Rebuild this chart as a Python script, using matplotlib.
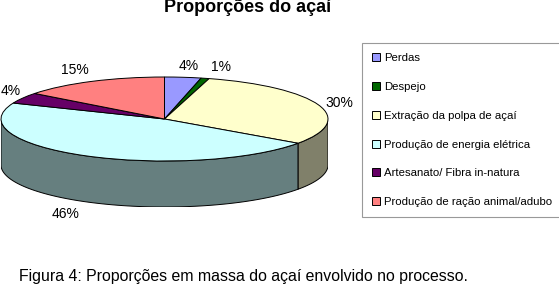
import numpy as np
import matplotlib
matplotlib.use('Agg')
import matplotlib.pyplot as plt
from matplotlib.patches import Patch, Polygon

plt.rcParams['font.family'] = ['Liberation Sans', 'DejaVu Sans']

title = 'Proporções do açaí'
caption = 'Figura 4: Proporções em massa do açaí envolvido no processo.'
categories = ['Perdas', 'Despejo', 'Extração da polpa de açaí',
              'Produção de energia elétrica', 'Artesanato/ Fibra in-natura',
              'Produção de ração animal/adubo']
values = [3.6, 0.8, 30.4, 46.4, 4.2, 14.6]

colors = ['#9999FF', '#006600', '#FFFFCC', '#CCFFFF', '#660066', '#FF8080']
side_colors = ['#666680', '#003300', '#80806A', '#667F7F', '#330033', '#804040']

W, H = 559, 287
fig = plt.figure(figsize=(W / 100, H / 100), dpi=100, facecolor='white')

# pie box in pixels, the wedges get squashed into an ellipse
left, right, top, bottom = 1, 328, 77, 207
ry = 42.0
depth = 46.0 / ry
ax = fig.add_axes([left / W, 1 - bottom / H, (right - left) / W, (bottom - top) / H])

wedges, _ = ax.pie(values, colors=colors, startangle=90, counterclock=False,
                   wedgeprops={'edgecolor': 'black', 'linewidth': 0.7, 'zorder': 3})
ax.set_aspect('auto')
ax.set_xlim(-1, 1)
ax.set_ylim(-1 - depth, 1)
ax.axis('off')

# side wall, only the part of each slice on the front half
edges = np.cumsum([0] + values) / sum(values) * 360
for i in range(len(values)):
    a = max(edges[i], 90)
    b = min(edges[i + 1], 270)
    if b <= a:
        continue
    t = np.radians(np.linspace(a, b, 80))
    x, y = np.sin(t), np.cos(t)
    pts = np.vstack([np.column_stack([x, y]),
                     np.column_stack([x[::-1], y[::-1] - depth])])
    ax.add_patch(Polygon(pts, closed=True, facecolor=side_colors[i],
                         edgecolor='black', linewidth=0.7, zorder=2))

# percent labels, pixel positions
label_xy = [(189, 66), (221, 67), (339, 103), (66, 214), (11, 91), (75, 70)]
for v, (px, py) in zip(values, label_xy):
    fig.text(px / W, 1 - py / H, '%.0f%%' % v, fontsize=10, ha='center', va='center')

fig.text(248 / W, 1 - 8 / H, title, fontsize=13, fontweight='bold', ha='center', va='center')
fig.text(19 / W, 1 - 277 / H, caption, fontsize=11.4, ha='left', va='center')

handles = [Patch(facecolor=c, edgecolor='black', linewidth=0.7) for c in colors]
leg = fig.legend(handles, categories, loc='upper left',
                 bbox_to_anchor=(362 / W, 1 - 43 / H), borderaxespad=0,
                 fontsize=8.2, frameon=True, fancybox=False, edgecolor='#999999',
                 framealpha=1, handlelength=0.7, handleheight=0.7, handletextpad=0.35,
                 labelspacing=1.65, borderpad=0.9)
leg.get_frame().set_linewidth(0.8)

fig.savefig('out.png', dpi=100)
